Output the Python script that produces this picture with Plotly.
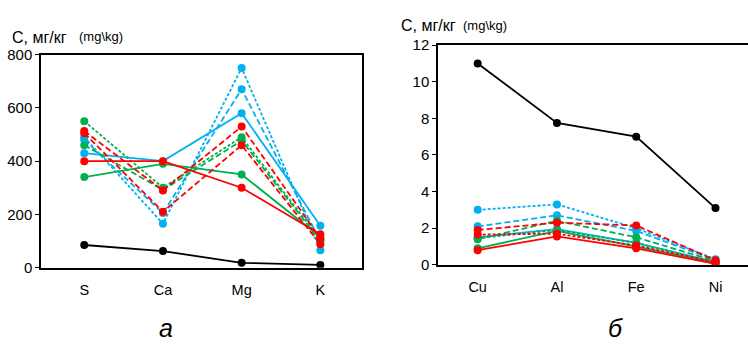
import plotly.graph_objects as go

# ---- data ----
cats_a = ["S", "Ca", "Mg", "K"]
cats_b = ["Cu", "Al", "Fe", "Ni"]

# panel a (macro elements), mg/kg
a_blue_solid = [430, 400, 580, 157]
a_blue_dash1 = [490, 165, 750, 65]
a_blue_dash2 = [480, 205, 670, 100]
a_green_solid = [340, 390, 350, 115]
a_green_dash1 = [550, 300, 490, 105]
a_green_dash2 = [460, 292, 477, 100]
a_red_solid = [400, 400, 300, 125]
a_red_dash1 = [513, 290, 530, 110]
a_red_dash2 = [505, 210, 460, 88]
a_black = [85, 62, 18, 10]

# panel b (micro elements), mg/kg
b_blue_solid = [1.5, 1.95, 1.2, 0.15]
b_blue_dash1 = [3.0, 3.3, 2.0, 0.3]
b_blue_dash2 = [2.1, 2.7, 1.85, 0.25]
b_green_solid = [0.9, 1.85, 1.0, 0.1]
b_green_dash1 = [1.4, 2.4, 1.5, 0.2]
b_green_dash2 = [1.45, 1.9, 1.2, 0.1]
b_red_solid = [0.8, 1.55, 0.9, 0.05]
b_red_dash1 = [1.9, 2.3, 2.15, 0.25]
b_red_dash2 = [1.65, 1.7, 1.05, 0.15]
b_black = [11.0, 7.75, 7.0, 3.1]

ticks_a = [0, 200, 400, 600, 800]
ticks_b = [0, 2, 4, 6, 8, 10, 12]

BLUE = "#00B0F0"
GREEN = "#00B050"
RED = "#FF0000"
BLACK = "#000000"
DASH = "6px,3px"
SDASH = "3px,2px"

fig = go.Figure()

def add(x, y, color, dash, xa, ya):
    fig.add_trace(go.Scatter(
        x=x, y=y, mode="lines+markers", xaxis=xa, yaxis=ya,
        line=dict(color=color, width=1.8, dash=dash),
        marker=dict(color=color, size=8), showlegend=False, hoverinfo="skip"))

series_a = [
    (a_blue_dash1, BLUE, SDASH), (a_blue_dash2, BLUE, DASH), (a_blue_solid, BLUE, "solid"),
    (a_green_dash1, GREEN, SDASH), (a_green_dash2, GREEN, DASH), (a_green_solid, GREEN, "solid"),
    (a_red_dash1, RED, DASH), (a_red_dash2, RED, DASH), (a_red_solid, RED, "solid"),
    (a_black, BLACK, "solid"),
]
for vals, c, d in series_a:
    add(cats_a, vals, c, d, "x", "y")

series_b = [
    (b_blue_dash1, BLUE, SDASH), (b_blue_dash2, BLUE, DASH), (b_blue_solid, BLUE, "solid"),
    (b_green_dash1, GREEN, DASH), (b_green_dash2, GREEN, SDASH), (b_green_solid, GREEN, "solid"),
    (b_red_dash1, RED, DASH), (b_red_dash2, RED, SDASH), (b_red_solid, RED, "solid"),
    (b_black, BLACK, "solid"),
]
for vals, c, d in series_b:
    add(cats_b, vals, c, d, "x2", "y2")

FONT = "Liberation Sans, Arial, sans-serif"
axis_common = dict(showgrid=False, zeroline=False, showline=True, linecolor="#000000",
                   linewidth=1.5)
xfont = dict(family=FONT, size=14.5, color="#000")
yfont = dict(family=FONT, size=15, color="#000")

fig.update_layout(
    width=748, height=346,
    margin=dict(l=0, r=0, t=0, b=0),
    paper_bgcolor="white", plot_bgcolor="white",
    font=dict(family=FONT, color="#000"),
    xaxis=dict(domain=[0.0548, 0.484], anchor="y", type="category",
               categoryorder="array", categoryarray=cats_a,
               range=[-0.55, 3.53], mirror=True, ticks="", ticklabelstandoff=8,
               tickfont=xfont, **axis_common),
    yaxis=dict(domain=[0.2139, 0.8613], anchor="x", range=[0, 800],
               tickvals=ticks_a, ticks="outside", ticklen=4, tickcolor="#000",
               mirror=True, tickfont=yfont, **axis_common),
    xaxis2=dict(domain=[0.5856, 1.0], anchor="y2", type="category",
                categoryorder="array", categoryarray=cats_b,
                range=[-0.5, 3.41], mirror=True, ticks="", ticklabelstandoff=8,
                tickfont=xfont, **axis_common),
    yaxis2=dict(domain=[0.2225, 0.8902], anchor="x2", range=[0, 12],
                tickvals=ticks_b, ticks="outside", ticklen=4, tickcolor="#000",
                mirror=False, tickfont=yfont, **axis_common),
)

def txt(x, y, s, size, italic=False, xanchor="left"):
    fig.add_annotation(x=x / 748, y=1 - y / 346, xref="paper", yref="paper",
                       text=s, showarrow=False, xanchor=xanchor, yanchor="middle",
                       font=dict(family=FONT, size=size, color="#000",
                                 style="italic" if italic else "normal"))

txt(10, 30, "С, мг/кг", 16)
txt(77, 29, "(mg\\kg)", 13)
txt(399, 17, "С, мг/кг", 16)
txt(461, 17, "(mg\\kg)", 13)
txt(166, 335, "а", 25, italic=True, xanchor="center")
txt(615, 335, "б", 25, italic=True, xanchor="center")

fig.write_html("out.html",
               config={"displayModeBar": False},
               post_script="document.body.style.margin='0';document.body.style.overflow='hidden';")
